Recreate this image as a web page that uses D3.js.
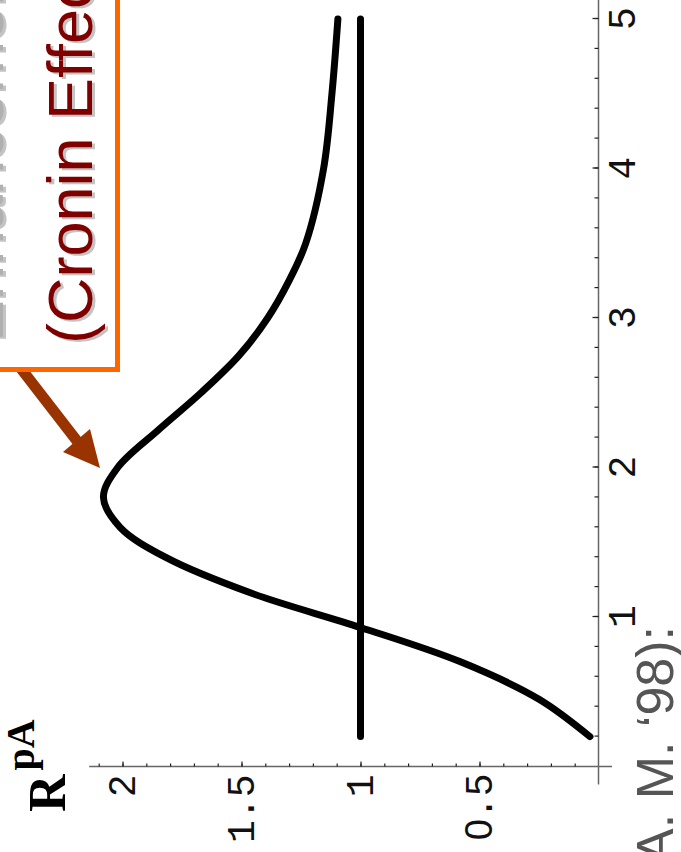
<!DOCTYPE html>
<html>
<head>
<meta charset="utf-8">
<script src="https://cdn.jsdelivr.net/npm/d3@7"></script>
<style>
  body { margin: 0; background: #fff; }
  svg { display: block; }
</style>
</head>
<body>
<svg id="chart" width="681" height="852"></svg>
<script>
// values (pT in GeV, R^pA)
var pt = [0.2, 0.45, 0.7, 0.93, 1.16, 1.4, 1.6, 1.8, 2.0, 2.25, 2.5, 2.75, 3.0, 3.25, 3.5, 4.0, 4.5, 5.0];
var rpa = [0.036, 0.25, 0.58, 1.0, 1.46, 1.82, 2.01, 2.08, 2.02, 1.85, 1.67, 1.51, 1.39, 1.3, 1.23, 1.155, 1.12, 1.095];
var unityPt = [0.2, 5.0];
var unityR = [1, 1];

var ptTicks = [1, 2, 3, 4, 5];
var ptMinor = d3.range(0.2, 5.01, 0.2);
var rTicks = [0.5, 1, 1.5, 2];
var rMinor = d3.range(0.1, 2.15, 0.1);

var titleLine1 = "Enhancement";
var titleLine2 = "(Cronin Effect)";
var refText = "(A. M. \u201898):";

var svg = d3.select("#chart");

// the whole slide is turned a quarter turn, so draw it upright and rotate
var g = svg.append("g")
    .attr("transform", "translate(0,852) rotate(-90)");

var x = d3.scaleLinear().domain([0, 5]).range([85.5, 833]);
var y = d3.scaleLinear().domain([0, 2]).range([598.5, 122.5]);

// axes lines (cross at the origin, a bit overshooting like Mathematica)
g.append("line")
    .attr("x1", x(-0.12)).attr("x2", 870)
    .attr("y1", y(0)).attr("y2", y(0))
    .attr("stroke", "#666").attr("stroke-width", 1.5);
g.append("line")
    .attr("x1", x(0)).attr("x2", x(0))
    .attr("y1", y(-0.057)).attr("y2", y(2.14))
    .attr("stroke", "#666").attr("stroke-width", 1.5);

function styleAxis(sel) {
  sel.select(".domain").remove();
  sel.selectAll("line").attr("stroke", "#222").attr("stroke-width", 1.2);
  sel.selectAll("text")
      .attr("font-family", "Liberation Mono, monospace")
      .attr("font-size", 38)
      .attr("fill", "#111")
      .each(function() {
        // plain (not dotted) zero, as in the picture
        var t = d3.select(this), s = t.text();
        if (s.indexOf("0") < 0) return;
        t.text(null);
        s.split("").forEach(function(c) {
          var sp = t.append("tspan").text(c);
          if (c === "0") sp.attr("font-family", "Liberation Sans, sans-serif").attr("dx", 1);
        });
      });
}

g.append("g")
    .attr("transform", "translate(0," + y(0) + ")")
    .call(d3.axisBottom(x).tickValues(ptMinor).tickSize(-4).tickFormat(""))
    .call(styleAxis);
g.append("g")
    .attr("transform", "translate(0," + y(0) + ")")
    .call(d3.axisBottom(x).tickValues(ptTicks).tickSize(-6).tickPadding(10).tickFormat(d3.format("d")))
    .call(styleAxis);

g.append("g")
    .attr("transform", "translate(" + x(0) + ",0)")
    .call(d3.axisLeft(y).tickValues(rMinor).tickSize(-3).tickFormat(""))
    .call(styleAxis);
g.append("g")
    .attr("transform", "translate(" + x(0) + ",0)")
    .call(d3.axisLeft(y).tickValues(rTicks).tickSize(-5).tickPadding(8).tickFormat(function(d) { return d % 1 === 0 ? d3.format("d")(d) : d3.format(".1f")(d); }))
    .call(styleAxis);

// curves
var line = d3.line()
    .x(function(d) { return x(d[0]); })
    .y(function(d) { return y(d[1]); })
    .curve(d3.curveCatmullRom.alpha(0.5));

g.append("path")
    .datum(d3.zip(unityPt, unityR))
    .attr("d", line)
    .attr("fill", "none").attr("stroke", "#000")
    .attr("stroke-width", 7).attr("stroke-linecap", "round");

g.append("path")
    .datum(d3.zip(pt, rpa))
    .attr("d", line)
    .attr("fill", "none").attr("stroke", "#000")
    .attr("stroke-width", 7).attr("stroke-linecap", "round").attr("stroke-linejoin", "round");

// arrow pointing at the peak
g.append("line")
    .attr("x1", 486).attr("y1", 19)
    .attr("x2", 411).attr("y2", 77)
    .attr("stroke", "#993300").attr("stroke-width", 11);
g.append("path")
    .attr("d", "M400,63 L423,90 L384,100 Z")
    .attr("fill", "#993300");

// callout box
g.append("rect")
    .attr("x", 482.5).attr("y", -30)
    .attr("width", 420).attr("height", 147.5)
    .attr("fill", "#fff")
    .attr("stroke", "#ff6600").attr("stroke-width", 5);

function shadowText(txt, tx, ty, color) {
  g.append("text")
      .attr("x", tx - 2).attr("y", ty + 3)
      .attr("font-family", "Liberation Sans, Arial, sans-serif")
      .attr("font-size", 63).attr("fill", "#c4c4c4")
      .text(txt);
  g.append("text")
      .attr("x", tx).attr("y", ty)
      .attr("font-family", "Liberation Sans, Arial, sans-serif")
      .attr("font-size", 63).attr("fill", color)
      .text(txt);
}
shadowText(titleLine1, 510, 3, "#b0b0b0");
shadowText(titleLine2, 508, 92, "#800000");

// reference text, bottom right
g.append("text")
    .attr("x", 226).attr("y", 673)
    .attr("text-anchor", "end")
    .attr("font-family", "Liberation Sans, Arial, sans-serif")
    .attr("font-size", 52).attr("fill", "#555")
    .text(refText);

// R^pA label
var lab = g.append("text")
    .attr("x", 40).attr("y", 65)
    .attr("font-family", "Liberation Serif, Times New Roman, serif")
    .attr("font-weight", "bold")
    .attr("font-size", 52).attr("fill", "#000");
lab.append("tspan").text("R");
lab.append("tspan").attr("dx", 4).attr("dy", -31).attr("font-size", 40).text("pA");
</script>
</body>
</html>
